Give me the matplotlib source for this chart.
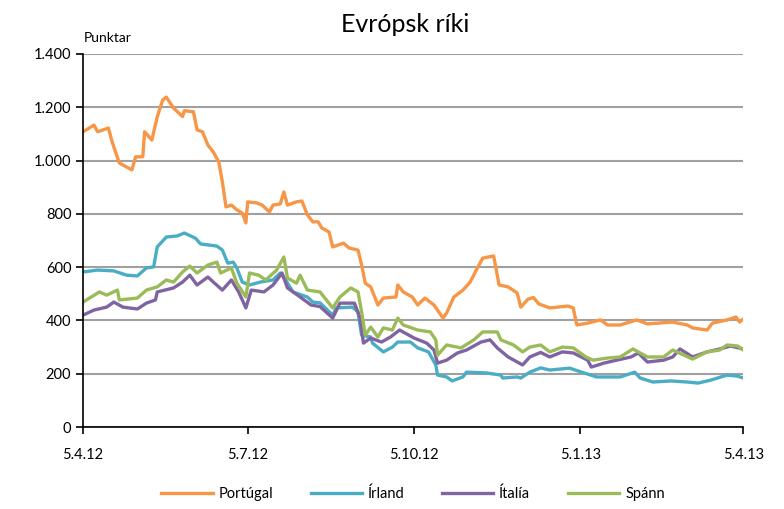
import pandas as pd
import matplotlib
matplotlib.use('Agg')
from matplotlib import pyplot as plt
from matplotlib.ticker import FuncFormatter

plt.rcParams['font.family'] = ['Lato', 'DejaVu Sans']

# start date of the series, offsets below are days from it
start = pd.Timestamp('2012-04-05')

# Portúgal
pt_days = [0, 6, 8, 14, 16, 20, 27, 29, 33, 34, 38, 41, 44, 46, 50, 55, 56, 61, 63, 66,
           69, 72, 75, 77, 79, 82, 85, 88, 90, 91, 96, 99, 103, 105, 109, 111, 113, 118, 121, 124,
           127, 130, 132, 136, 138, 144, 147, 152, 154, 156, 159, 163, 166, 173, 174, 177, 182, 185, 189, 194,
           199, 201, 205, 210, 214, 218, 221, 227, 230, 235, 240, 242, 246, 249, 252, 258, 268, 271, 273, 279,
           286, 290, 297, 306, 312, 326, 334, 337, 345, 348, 356, 361, 363, 365]
pt_vals = [1108, 1133, 1108, 1122, 1071, 991, 965, 1014, 1014, 1108, 1077, 1164, 1227, 1238, 1197, 1165, 1187, 1183, 1115, 1108,
           1058, 1032, 995, 920, 826, 833, 815, 803, 766, 845, 841, 833, 807, 833, 837, 882, 833, 845, 848, 796,
           770, 770, 747, 732, 676, 690, 672, 664, 608, 540, 526, 458, 484, 488, 533, 507, 488, 458, 484, 458,
           409, 428, 488, 514, 544, 597, 634, 642, 533, 526, 503, 450, 480, 486, 462, 447, 454, 447, 383, 390,
           402, 383, 383, 402, 387, 394, 383, 372, 364, 390, 402, 413, 394, 405]

# Írland
ie_days = [0, 8, 17, 24, 30, 35, 39, 41, 46, 52, 56, 62, 65, 74, 77, 80, 83, 85, 88, 92,
           98, 105, 109, 112, 116, 124, 127, 131, 138, 140, 149, 152, 154, 159, 160, 166, 171, 174, 181, 185,
           191, 195, 196, 201, 204, 210, 212, 223, 231, 232, 240, 242, 247, 253, 258, 269, 277, 284, 297, 305,
           308, 315, 325, 334, 340, 347, 356, 362, 365]
ie_vals = [582, 589, 586, 570, 567, 597, 601, 676, 713, 717, 728, 709, 687, 679, 664, 615, 619, 597, 544, 533,
           544, 552, 578, 552, 507, 488, 469, 466, 420, 447, 450, 432, 345, 338, 315, 282, 300, 319, 319, 297,
           282, 233, 195, 188, 173, 188, 206, 203, 195, 184, 188, 184, 206, 222, 214, 221, 203, 188, 188, 206,
           184, 169, 173, 169, 165, 176, 195, 191, 184]

# Ítalía
it_days = [0, 6, 13, 17, 22, 30, 35, 40, 41, 50, 55, 59, 63, 69, 72, 77, 82, 86, 90, 93,
           100, 105, 110, 113, 118, 126, 131, 138, 142, 150, 153, 155, 159, 165, 170, 175, 183, 190, 194, 196,
           201, 207, 212, 220, 225, 229, 235, 243, 247, 253, 258, 265, 271, 279, 281, 288, 295, 303, 307, 312,
           321, 326, 330, 337, 345, 352, 358, 365]
it_vals = [420, 439, 450, 469, 450, 443, 465, 477, 507, 522, 544, 570, 533, 563, 544, 514, 552, 507, 447, 514,
           507, 533, 578, 522, 498, 458, 452, 409, 465, 465, 413, 315, 334, 319, 338, 364, 334, 315, 289, 240,
           251, 278, 289, 319, 327, 297, 263, 233, 263, 280, 263, 282, 278, 251, 225, 240, 251, 263, 278, 244,
           251, 263, 293, 263, 282, 293, 304, 293]

# Spánn
es_days = [0, 9, 13, 19, 20, 30, 35, 41, 46, 50, 55, 59, 63, 69, 74, 76, 82, 85, 90, 92,
           97, 101, 107, 111, 113, 118, 120, 124, 131, 138, 142, 148, 152, 154, 156, 159, 163, 166, 171, 174,
           177, 185, 192, 195, 196, 201, 209, 216, 221, 229, 231, 238, 243, 247, 253, 258, 265, 271, 278, 282,
           290, 297, 304, 312, 321, 326, 337, 345, 352, 356, 362, 365]
es_vals = [469, 507, 495, 514, 477, 484, 514, 526, 552, 544, 582, 604, 578, 608, 619, 578, 597, 540, 488, 578,
           570, 552, 589, 638, 559, 540, 570, 514, 507, 447, 488, 522, 507, 432, 345, 375, 338, 372, 364, 409,
           383, 364, 357, 327, 270, 308, 297, 327, 357, 357, 327, 308, 282, 300, 308, 282, 300, 297, 263, 251,
           259, 263, 293, 263, 263, 289, 255, 282, 289, 308, 304, 289]

series = [
    ('Portúgal', pt_days, pt_vals, '#F79646'),
    ('Írland', ie_days, ie_vals, '#4BACC6'),
    ('Ítalía', it_days, it_vals, '#8064A2'),
    ('Spánn', es_days, es_vals, '#9BBB59'),
]

tick_dates = ['2012-04-05', '2012-07-05', '2012-10-05', '2013-01-05', '2013-04-05']
tick_labels = ['5.4.12', '5.7.12', '5.10.12', '5.1.13', '5.4.13']

fig = plt.figure(figsize=(7.84, 5.09), dpi=100)
ax = fig.add_axes([0.106, 0.161, 0.842, 0.733])

for name, days, vals, color in series:
    dates = start + pd.to_timedelta(days, unit='D')
    ax.plot(dates, vals, color=color, linewidth=2.4, label=name)

ax.set_ylim(0, 1400)
ax.set_yticks(range(0, 1401, 200))
ax.yaxis.set_major_formatter(FuncFormatter(lambda v, p: f'{int(v):,}'.replace(',', '.')))
ax.set_xlim(pd.Timestamp(tick_dates[0]), pd.Timestamp(tick_dates[-1]))
ax.set_xticks(pd.to_datetime(tick_dates))
ax.set_xticklabels(tick_labels)

ax.grid(axis='y', color='#A0A0A0', linewidth=1.5)
ax.set_axisbelow(True)
for side in ['top', 'right']:
    ax.spines[side].set_visible(False)
ax.spines['left'].set_linewidth(1.2)
ax.spines['bottom'].set_linewidth(1.2)
ax.tick_params(axis='both', labelsize=10.5, length=5, width=1.2, direction='out')
ax.tick_params(axis='x', pad=10)

fig.text(0.107, 0.913, 'Punktar', fontsize=10, ha='left', va='bottom')
fig.suptitle('Evrópsk ríki', x=0.517, y=0.975, fontsize=18, va='top')

ax.legend(loc='upper center', bbox_to_anchor=(0.5, -0.125), ncol=4, frameon=False,
          fontsize=10.5, handlelength=3.5, columnspacing=2.6, handletextpad=0.4)

plt.savefig('out.png', dpi=100)
